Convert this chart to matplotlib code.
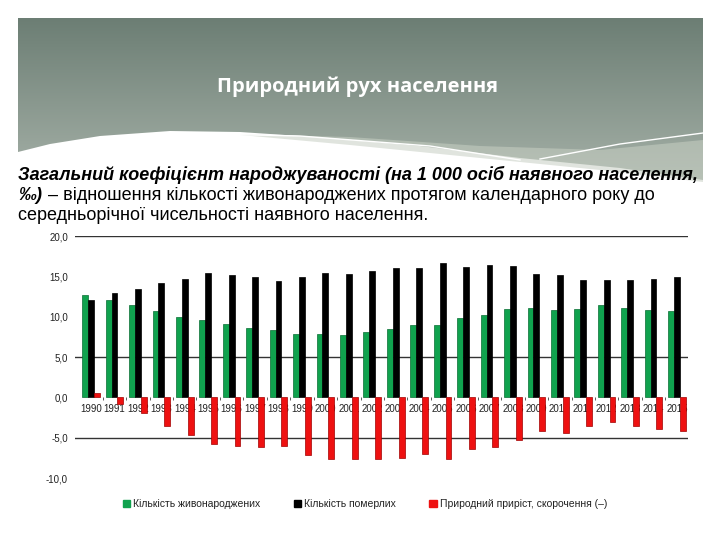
import numpy as np
import matplotlib.pyplot as plt
from matplotlib.path import Path
from matplotlib.patches import PathPatch, Patch

# data
years = ['1990', '1991', '1992', '1993', '1994', '1995', '1996', '1997', '1998',
         '1999', '2000', '2001', '2002', '2003', '2004', '2005', '2006', '2007',
         '2008', '2009', '2010', '2011', '2012', '2013', '2014', '2015']
births = [12.7, 12.1, 11.4, 10.7, 10.0, 9.6, 9.1, 8.6, 8.4, 7.8, 7.8, 7.7, 8.1,
          8.5, 9.0, 9.0, 9.8, 10.2, 11.0, 11.1, 10.8, 11.0, 11.4, 11.1, 10.8, 10.7]
deaths = [12.1, 12.9, 13.4, 14.2, 14.7, 15.4, 15.2, 14.9, 14.4, 14.9, 15.4, 15.3, 15.7,
          16.0, 16.0, 16.6, 16.2, 16.4, 16.3, 15.3, 15.2, 14.5, 14.5, 14.6, 14.7, 14.9]
natural = [0.5, -0.8, -2.0, -3.5, -4.7, -5.8, -6.0, -6.2, -6.0, -7.1, -7.6, -7.6, -7.6,
           -7.5, -7.0, -7.6, -6.4, -6.2, -5.3, -4.2, -4.4, -3.5, -3.1, -3.5, -3.9, -4.2]
series_names = ['Кількість живонароджених', 'Кількість померлих',
                'Природний приріст, скорочення (–)']
ytick_vals = [-10, -5, 0, 5, 10, 15, 20]
grid_vals = [20, 5, -5]

W, H = 720, 540
fig = plt.figure(figsize=(7.2, 5.4), dpi=100)

# background / header layer in pixel coordinates
bg = fig.add_axes([0, 0, 1, 1], zorder=0)
bg.set_xlim(0, W)
bg.set_ylim(H, 0)
bg.axis('off')

grad = np.linspace(0, 1, 256).reshape(-1, 1)
top_c = np.array([0x6c, 0x7e, 0x74]) / 255
bot_c = np.array([0xa8, 0xb3, 0xaa]) / 255
img = top_c + (bot_c - top_c) * grad[..., None]
im = bg.imshow(img, extent=[18, 703, 190, 18], aspect='auto', zorder=1)

verts = [(18, 18), (703, 18), (703, 180), (620, 168), (520, 158), (420, 146),
         (330, 138), (240, 132), (170, 131), (100, 136), (50, 144), (18, 152), (18, 18)]
codes = [Path.MOVETO] + [Path.LINETO] * (len(verts) - 2) + [Path.CLOSEPOLY]
clip = PathPatch(Path(verts, codes), transform=bg.transData, facecolor='none',
                 edgecolor='none')
bg.add_patch(clip)
im.set_clip_path(clip)

# lighter swoosh near the bottom right of the header
sw = [(230, 134), (350, 137), (480, 146), (600, 150), (703, 140), (703, 182),
      (600, 170), (480, 158), (350, 145), (230, 134)]
bg.fill([p[0] for p in sw], [p[1] for p in sw], color='#c7cfc3', alpha=0.55,
        lw=0, zorder=2)
bg.plot([160, 300, 430, 520], [133, 136, 146, 160], color='white', lw=1.0, zorder=3)
bg.plot([540, 620, 703], [159, 144, 133], color='white', lw=1.0, zorder=3)

bg.text(358, 87, 'Природний рух населення', color='white', fontsize=14.5,
        fontweight='bold', family='Open Sans', ha='center', va='center', zorder=4)

bg.text(18, 175, 'Загальний коефіцієнт народжуваності (на 1 000 осіб наявного населення,',
        fontsize=13, fontweight='bold', style='italic', family='Liberation Sans',
        ha='left', va='center', zorder=4)
t = bg.text(18, 195, '‰)', fontsize=13, fontweight='bold', style='italic',
            family='Liberation Sans', ha='left', va='center', zorder=4)
fig.canvas.draw()
bb = t.get_window_extent()
x2 = bb.x1 + 1
bg.text(x2, H - 195 - 0.5, ' – відношення кількості живонароджених протягом календарного року до',
        fontsize=13, family='Liberation Sans', ha='left', va='center', zorder=4,
        transform=None)
bg.text(18, 215, 'середньорічної чисельності наявного населення.', fontsize=13,
        family='Liberation Sans', ha='left', va='center', zorder=4)

# chart
ax = fig.add_axes([75 / W, 1 - 478 / H, 613 / W, 242 / H], zorder=2)
ax.patch.set_alpha(0)
x = np.arange(len(years))
bw = 0.25
ax.bar(x - bw, births, bw, color='#10a24e', edgecolor='#0a6e34', lw=0.5, zorder=3)
ax.bar(x, deaths, bw, color='black', edgecolor='black', lw=0.5, zorder=3)
ax.bar(x + bw, natural, bw, color='#ee1111', edgecolor='#a00000', lw=0.5, zorder=3)

for g in grid_vals:
    ax.axhline(g, color='#333333', lw=1.0, zorder=1)

ax.set_xlim(-0.683, 25.47)
ax.set_ylim(-10, 20)
ax.set_yticks(ytick_vals)
ax.set_yticklabels([f'{v:.1f}'.replace('.', ',') for v in ytick_vals],
                   fontsize=7, family='Liberation Sans', color='#222222')
ax.tick_params(axis='y', length=0, pad=5)

ax.set_axisbelow(True)
ax.spines['bottom'].set_position(('data', 0))
ax.spines['bottom'].set_color('none')
for s in ['top', 'right', 'left']:
    ax.spines[s].set_visible(False)
ax.set_xticks(x[:-1] + 0.5)
ax.set_xticklabels([])
ax.tick_params(axis='x', which='major', length=2.5, width=0.6, color='#444444',
               direction='out')
ax.set_xticks(x, minor=True)
ax.set_xticklabels(years, minor=True, fontsize=7, family='Liberation Sans',
                   color='#222222')
ax.tick_params(axis='x', which='minor', length=0, pad=5)

handles = [Patch(color='#10a24e'), Patch(color='black'), Patch(color='#ee1111')]
fig.legend(handles, series_names, loc='center', bbox_to_anchor=(365 / W, 1 - 504 / H),
           ncol=3, frameon=False, prop={'family': 'Liberation Sans', 'size': 7.5},
           handlelength=0.7, handleheight=0.7, handletextpad=0.3, columnspacing=3.2,
           labelcolor='#222222')

fig.savefig('out.png', dpi=100)
